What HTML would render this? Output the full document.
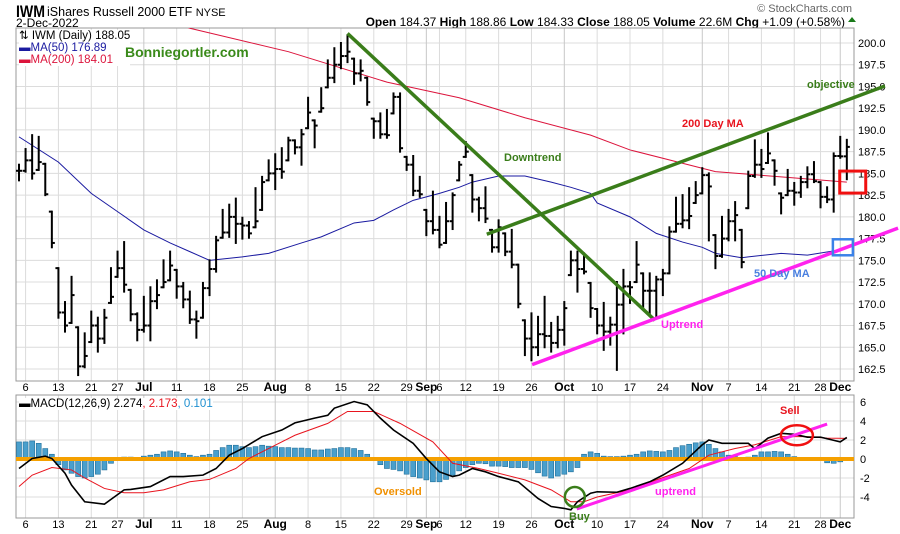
<!DOCTYPE html>
<html><head><meta charset="utf-8"><style>
body{margin:0;background:#fff;}
svg{display:block;font-family:"Liberation Sans",Arial,sans-serif;}
</style></head><body>
<svg id="c" width="900" height="534" viewBox="0 0 900 534">
<rect width="900" height="534" fill="#fff"/>
<g>
<text x="16" y="17" font-size="17" font-weight="bold" fill="#000" textLength="29" lengthAdjust="spacingAndGlyphs">IWM</text>
<text x="47" y="16" font-size="12.5" fill="#000">iShares Russell 2000 ETF <tspan font-size="11">NYSE</tspan></text>
<text x="16" y="27" font-size="12" fill="#000">2-Dec-2022</text>
<text x="852" y="12" font-size="11" fill="#666" text-anchor="end">© StockCharts.com</text>
<text x="845" y="26" font-size="12" fill="#000" text-anchor="end"><tspan font-weight="bold">Open</tspan> 184.37  <tspan font-weight="bold">High</tspan> 188.86  <tspan font-weight="bold">Low</tspan> 184.33  <tspan font-weight="bold">Close</tspan> 188.05  <tspan font-weight="bold">Volume</tspan> 22.6M  <tspan font-weight="bold">Chg</tspan> +1.09 (+0.58%)</text>
<path d="M848 22 L852 17 L856 22 Z" fill="#1a7a1a"/>
</g>
<g id="grid"></g>
<g id="marks"></g>
<g id="anno"></g>
</svg>
<script>
// ---- data ----
const highs=[186.0,187.8,189.4,189.2,186.1,180.6,174.1,170.2,173.1,167.3,166.6,169.1,168.4,169.3,174.1,176.0,177.1,171.6,168.9,170.8,171.9,172.7,175.0,176.0,173.9,172.4,171.4,169.1,172.4,175.0,177.7,180.8,181.4,182.1,179.9,179.4,183.3,184.6,186.5,187.2,187.9,189.1,188.8,190.0,193.7,191.1,194.8,198.0,199.4,200.0,200.9,198.2,198.0,196.0,191.3,191.9,192.3,194.2,194.2,186.9,187.0,184.6,180.8,182.9,180.0,181.6,182.7,186.3,188.6,184.8,182.2,183.4,178.5,179.6,178.1,178.5,174.5,168.1,168.9,168.5,170.8,167.8,168.5,170.2,176.0,176.0,175.8,172.4,169.4,170.1,168.4,172.5,173.9,172.5,177.1,173.5,173.5,173.1,173.9,178.8,182.2,182.5,183.3,184.0,185.6,185.0,177.9,180.0,180.8,181.7,178.5,185.2,188.8,187.7,189.6,186.5,182.7,185.4,183.9,184.6,185.7,186.3,184.0,183.4,187.3,189.2,188.86];
const lows=[184.2,185.2,184.4,185.4,182.5,176.5,168.4,166.8,167.8,161.8,162.7,165.6,164.5,165.5,170.1,173.1,171.4,168.1,165.8,166.8,165.8,169.5,171.9,172.7,170.7,169.6,167.8,166.1,168.4,171.0,173.7,177.6,177.7,177.0,177.5,177.6,178.8,180.8,184.2,183.2,184.5,186.5,187.3,186.0,190.2,188.0,192.1,194.9,195.5,197.1,197.8,195.3,195.7,192.9,189.1,189.1,189.1,191.9,187.5,185.4,182.5,182.3,177.9,178.1,176.5,177.0,178.6,184.2,186.9,180.6,179.6,179.4,176.0,176.0,175.6,174.2,169.6,164.1,163.5,164.1,165.0,164.5,165.0,165.3,173.3,171.4,173.5,168.5,166.6,164.7,165.3,162.4,166.6,170.1,172.5,169.6,168.9,168.4,171.0,173.5,178.3,178.8,178.7,181.6,182.7,177.3,174.1,175.4,177.3,177.3,174.2,181.0,184.6,184.6,186.2,183.7,180.4,182.5,181.4,182.3,183.4,184.0,181.1,181.7,180.6,186.8,184.33];
const closes=[185.3,186.5,185.0,186.3,182.6,177.0,169.0,167.5,171.0,162.8,164.0,167.5,166.0,168.4,170.8,174.1,172.2,168.8,167.0,167.5,170.3,171.0,172.5,174.4,172.0,170.5,168.2,168.0,171.8,174.0,177.3,178.2,180.0,179.2,179.0,178.1,179.5,184.0,185.0,185.5,185.2,188.8,188.0,189.5,192.0,190.5,192.5,196.0,197.5,198.5,199.0,196.5,196.8,193.2,191.0,189.5,189.4,193.8,187.9,186.0,183.0,182.6,179.5,178.5,176.8,179.5,182.5,186.0,187.5,182.0,181.0,179.8,176.5,178.8,176.0,174.5,170.0,166.0,165.0,166.5,166.3,165.5,167.0,169.5,175.0,174.0,173.7,169.5,167.5,166.8,167.6,169.9,172.0,171.9,174.5,171.5,171.5,172.8,173.5,178.3,179.2,179.6,180.1,182.5,184.8,183.5,175.5,177.5,179.5,180.2,174.8,184.7,186.0,185.5,187.3,185.3,182.2,183.0,182.8,184.0,184.9,184.1,182.3,182.0,187.0,186.96,188.05];
const ma50Idx=[0,6,11,15,19,23,26,29,34,38,43,46,51,54,57,60,64,67,69,73,77,81,84,87,88,93,97,101,104,106,110,111,116,120,125,126];
const ma50Val=[189.2,186.3,182.7,180.6,178.5,177.0,176.0,175.0,175.4,175.8,177.0,177.7,179.3,179.6,180.8,181.9,182.7,183.4,184.0,184.7,184.7,184.0,183.4,182.7,181.6,180.0,178.1,177.1,176.5,175.8,175.3,175.4,175.8,175.6,176.2,176.4];
const ma200Idx=[22,26,41,56,67,77,87,93,106,116,126];
const ma200Val=[202.8,201.7,199.0,195.5,193.7,191.4,189.4,187.7,185.2,184.6,184.0];
const hist=[1.8,1.8,1.9,1.65,1.1,0.5,-0.6,-1.15,-1.5,-1.85,-2.0,-1.85,-1.6,-1.15,-0.45,-0.05,0.2,0.2,0.15,0.3,0.4,0.5,0.75,0.85,0.75,0.6,0.4,0.25,0.4,0.5,0.9,1.2,1.45,1.45,1.3,1.2,1.3,1.45,1.35,1.3,1.2,1.2,1.15,1.15,1.1,0.95,0.95,1.05,1.1,1.2,1.2,1.1,0.9,0.5,-0.1,-0.6,-1.0,-1.1,-1.25,-1.6,-1.85,-2.0,-2.2,-2.4,-2.4,-2.15,-1.7,-1.25,-0.9,-0.6,-0.45,-0.5,-0.75,-0.75,-0.8,-0.9,-0.9,-0.9,-1.1,-1.45,-1.8,-2.0,-1.8,-1.6,-1.35,-0.9,0.5,0.75,0.6,0.3,0.25,0.25,0.3,0.4,0.5,0.75,0.85,0.8,0.75,0.9,1.2,1.4,1.55,1.7,1.8,1.55,1.1,0.75,0.4,0.25,0.05,0.2,0.4,0.75,0.75,0.8,0.75,0.5,0.25,0.15,0.05,0.05,0.0,-0.4,-0.45,-0.3,0.1];
const macdIdx=[0,2,4,5,7,8,10,13,14,16,17,20,23,25,28,30,32,34,37,40,42,45,47,48,51,53,55,57,60,62,64,66,67,69,71,73,76,79,81,83,84,85,87,88,91,93,96,98,101,104,105,107,111,112,114,116,118,120,122,125,126];
const macdVal=[-1.0,0.05,0.3,0.05,-1.5,-2.75,-4.5,-4.75,-4.25,-3.25,-3.2,-2.9,-1.85,-1.85,-1.7,-1.0,0.4,1.1,2.35,3.05,3.8,4.3,4.6,5.35,6.05,5.7,4.3,3.05,1.65,0.05,-1.35,-1.85,-1.7,-1.0,-1.35,-1.85,-2.4,-4.15,-5.0,-5.2,-5.35,-4.5,-3.6,-3.45,-3.5,-3.1,-2.4,-1.7,-0.45,1.5,2.0,1.65,1.65,1.1,2.2,2.7,2.6,2.3,2.3,1.8,2.27];
const sigIdx=[0,2,5,8,10,13,16,19,22,26,29,33,35,39,42,47,50,54,58,63,66,70,73,77,81,84,86,88,93,97,102,105,109,112,116,120,123,126];
const sigVal=[-2.9,-1.7,-0.9,-1.15,-2.0,-3.1,-3.55,-3.55,-3.25,-2.4,-2.15,-1.0,0.05,1.45,2.5,3.75,5.0,5.0,3.75,1.8,-0.45,-1.0,-1.5,-2.2,-3.25,-4.5,-4.5,-4.0,-3.25,-2.2,-1.0,0.4,1.1,1.5,2.35,2.35,2.2,2.17];
const priceTicks=[162.5,165.0,167.5,170.0,172.5,175.0,177.5,180.0,182.5,185.0,187.5,190.0,192.5,195.0,197.5,200.0];
const macdTicks=[-4,-2,0,2,4,6];
const dateIdx=[1,6,11,15,19,24,29,34,39,44,49,54,59,62,64,68,73,78,83,88,93,98,104,108,113,118,122,125];
const dateLbl=["6","13","21","27","Jul","11","18","25","Aug","8","15","22","29","Sep","6","12","19","26","Oct","10","17","24","Nov","7","14","21","28","Dec"];
// ---- scales ----
const L=16,R=854,T1=28,B1=381,T2=395,B2=518;
const X=k=>19+6.57*k;
const Y=p=>43+(200-p)*8.693;
const YM=v=>459-v*9.5;
const NS='http://www.w3.org/2000/svg';
function mk(tag,parent,attrs){const e=document.createElementNS(NS,tag);for(const a in attrs)e.setAttribute(a,attrs[a]);parent.appendChild(e);return e;}
const grid=document.getElementById('grid'),marks=document.getElementById('marks'),anno=document.getElementById('anno');
const defs=mk('defs',document.getElementById('c'),{});
const cp1=mk('clipPath',defs,{id:'cp1'});mk('rect',cp1,{x:L,y:T1,width:R-L,height:B1-T1});
const cp2=mk('clipPath',defs,{id:'cp2'});mk('rect',cp2,{x:L,y:T2,width:R-L,height:B2-T2});
priceTicks.forEach(p=>{
 const l=mk('line',grid,{x1:L,x2:R,y1:Y(p),y2:Y(p),stroke:'#dcdcdc','stroke-width':1});
 
 const t=mk('text',grid,{x:R+4,y:Y(p)+4,'font-size':11,fill:'#000'});t.textContent=p.toFixed(1);
 
});
macdTicks.forEach(v=>{
 const l=mk('line',grid,{x1:L,x2:R,y1:YM(v),y2:YM(v),stroke:'#dcdcdc','stroke-width':1});
 
 const t=mk('text',grid,{x:R+6,y:YM(v)+4,'font-size':11,fill:'#000'});t.textContent=String(v);
 
});
dateIdx.forEach((k,i)=>{
 const x=X(k);const bold=isNaN(+dateLbl[i]);
 [[T1,B1],[T2,B2]].forEach(r=>{const l=mk('line',grid,{x1:x,x2:x,y1:r[0],y2:r[1],stroke:bold?'#c8c8c8':'#dcdcdc','stroke-width':1});
 });
 [391,528].forEach(yy=>{const t=mk('text',grid,{x:x,y:yy,'font-size':bold?12:11,'font-weight':bold?'bold':'normal','text-anchor':'middle',fill:'#000'});t.textContent=dateLbl[i];
 });
});
let f=mk('rect',grid,{x:L,y:T1,width:R-L,height:B1-T1,fill:'none',stroke:'#999'});

f=mk('rect',grid,{x:L,y:T2,width:R-L,height:B2-T2,fill:'none',stroke:'#999'});

function poly(idx,val,fy,parent,attrs){return mk('polyline',parent,Object.assign({points:idx.map((k,i)=>X(k)+','+fy(val[i])).join(' '),fill:'none'},attrs));}
const g1=mk('g',marks,{'clip-path':'url(#cp1)'});
let m=poly(ma200Idx,ma200Val,Y,g1,{stroke:'#dc143c','stroke-width':1});

m=poly(ma50Idx,ma50Val,Y,g1,{stroke:'#1a1aa0','stroke-width':1});

highs.forEach((h,k)=>{
 const x=X(k),o=k>0?closes[k-1]:closes[k];
 const g=mk('g',g1,{stroke:'#000','stroke-width':2});
 
 mk('line',g,{x1:x,x2:x,y1:Y(h)-1,y2:Y(lows[k])+1});
 const oy=Y(Math.min(Math.max(o,lows[k]),h));
 mk('line',g,{x1:x-3,x2:x,y1:oy,y2:oy});
 mk('line',g,{x1:x,x2:x+3,y1:Y(closes[k]),y2:Y(closes[k])});
});
const g2=mk('g',marks,{'clip-path':'url(#cp2)'});
hist.forEach((v,k)=>{
 const y0=YM(0),y1=YM(v);
 const r=mk('rect',g2,{x:X(k)-2.5,y:Math.min(y0,y1),width:5,height:Math.max(0.5,Math.abs(y1-y0)),fill:'#4a9fcc',stroke:'#1f6f9a','stroke-width':0.6});
 
});
m=mk('line',g2,{x1:L,x2:R,y1:YM(0),y2:YM(0),stroke:'#f5a000','stroke-width':4});

m=poly(sigIdx,sigVal,YM,g2,{stroke:'#e8141e','stroke-width':1});

m=poly(macdIdx,macdVal,YM,g2,{stroke:'#000','stroke-width':1.6});

function ln(a,b,fy,col,w,name){const e=mk('line',anno,{x1:X(a[0]),y1:fy(a[1]),x2:X(b[0]),y2:fy(b[1]),stroke:col,'stroke-width':w});
 }
ln([50,201.1],[96.8,168.1],Y,'#3a7d1a',3.5,'downtrend-line');
ln([71.2,178.0],[131.8,195.05],Y,'#3a7d1a',3.5,'objective-trend-line');
ln([78.1,163.0],[133.8,178.7],Y,'#ff22ee',3.5,'uptrend-line');
ln([84.9,-5.26],[123,3.68],YM,'#ff22ee',3,'macd-uptrend-line');
let b=mk('rect',anno,{x:X(126.9)-13,y:Y(184)-11,width:26,height:22,fill:'none',stroke:'#f01010','stroke-width':3});

b=mk('rect',anno,{x:X(125.4)-10,y:Y(176.5)-8,width:20,height:16,fill:'none',stroke:'#3b82e8','stroke-width':2.5});

b=mk('ellipse',anno,{cx:X(84.6),cy:YM(-4.0),rx:10,ry:10,fill:'none',stroke:'#3a7d1a','stroke-width':2.5});

b=mk('ellipse',anno,{cx:X(118.4),cy:YM(2.5),rx:16,ry:10,fill:'none',stroke:'#f01010','stroke-width':2.5});

</script>
<div style="position:absolute;left:0;top:0;width:900px;height:534px;pointer-events:none;font-family:'Liberation Sans',Arial,sans-serif;">
<div style="position:absolute;left:19px;top:30px;font-size:11.5px;line-height:12px;background:#fff;">
<div style="color:#000">&#8645; IWM (Daily) 188.05</div>
<div style="color:#1a1aa0">&#9644;MA(50) 176.89</div>
<div style="color:#dc143c">&#9644;MA(200) 184.01</div>
</div>
<div style="position:absolute;left:125px;top:44px;font-size:14px;font-weight:bold;color:#3a8a1a;">Bonniegortler.com</div>
<div style="position:absolute;left:504px;top:152px;font-size:11px;font-weight:bold;color:#3a7d1a;">Downtrend</div>
<div style="position:absolute;left:682px;top:118px;font-size:11px;font-weight:bold;color:#e8141e;">200 Day MA</div>
<div style="position:absolute;left:807px;top:79px;font-size:11px;font-weight:bold;color:#3a7d1a;">objective</div>
<div style="position:absolute;left:661px;top:319px;font-size:11px;font-weight:bold;color:#ff22ee;">Uptrend</div>
<div style="position:absolute;left:754px;top:268px;font-size:11px;font-weight:bold;color:#4a80e0;">50 Day MA</div>
<div style="position:absolute;left:19px;top:398px;font-size:11.5px;background:#fff;"><span style="color:#000">&#9644;MACD(12,26,9) 2.274</span><span style="color:#e8141e">, 2.173</span><span style="color:#1e8fd0">, 0.101</span></div>
<div style="position:absolute;left:780px;top:405px;font-size:11px;font-weight:bold;color:#e8141e;">Sell</div>
<div style="position:absolute;left:374px;top:486px;font-size:11px;font-weight:bold;color:#f09000;">Oversold</div>
<div style="position:absolute;left:655px;top:486px;font-size:11px;font-weight:bold;color:#ff22ee;">uptrend</div>
<div style="position:absolute;left:569px;top:511px;font-size:11px;font-weight:bold;color:#3a7d1a;">Buy</div>
</div>
</body></html>
